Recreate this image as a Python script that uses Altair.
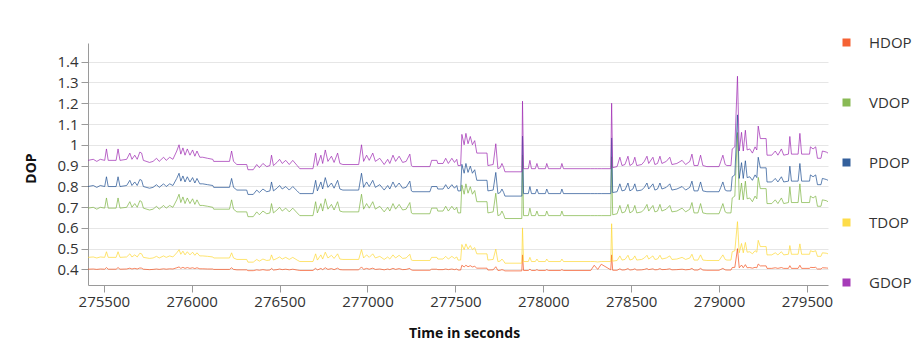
import altair as alt
import pandas as pd

# ---- data ----
time_s = [
    275410, 275440, 275460, 275480, 275505, 275515, 275525, 275570, 275581, 275592,
    275630, 275648, 275660, 275676, 275690, 275705, 275715, 275725, 275760, 275780,
    275800, 275815, 275840, 275855, 275875, 275893, 275915, 275928, 275938, 275950,
    275962, 275975, 275990, 276005, 276018, 276030, 276046, 276063, 276090, 276120,
    276125, 276215, 276227, 276238, 276257, 276313, 276320, 276350, 276370, 276385,
    276405, 276427, 276445, 276454, 276465, 276485, 276500, 276515, 276535, 276555,
    276575, 276600, 276615, 276690, 276705, 276715, 276735, 276745, 276760, 276775,
    276795, 276810, 276830, 276843, 276860, 276950, 276966, 276978, 276995, 277010,
    277030, 277045, 277070, 277095, 277115, 277127, 277145, 277160, 277180, 277200,
    277220, 277241, 277250, 277258, 277355, 277365, 277395, 277400, 277430, 277445,
    277460, 277480, 277495, 277508, 277515, 277530, 277537, 277550, 277560, 277572,
    277585, 277597, 277610, 277622, 277680, 277685, 277715, 277730, 277742, 277755,
    277765, 277775, 277782, 277878, 277882, 277888, 277915, 277924, 277933, 277955,
    277964, 277973, 278012, 278020, 278030, 278098, 278106, 278115, 278270, 278290,
    278310, 278330, 278384, 278389, 278395, 278420, 278436, 278448, 278465, 278482,
    278493, 278510, 278521, 278532, 278560, 278575, 278590, 278600, 278624, 278635,
    278650, 278664, 278675, 278700, 278720, 278732, 278760, 278790, 278810, 278834,
    278846, 278858, 278880, 278895, 278908, 278931, 279000, 279010, 279022, 279035,
    279045, 279068, 279075, 279090, 279105, 279115, 279128, 279138, 279150, 279160,
    279175, 279190, 279205, 279215, 279223, 279235, 279268, 279273, 279300, 279320,
    279335, 279355, 279368, 279395, 279403, 279412, 279450, 279460, 279470, 279515,
    279520, 279535, 279550, 279560, 279580, 279588, 279610, 279620,
]

gdop = [
    .925, .930, .920, .930, .925, .980, .925, .925, .980, .925,
    .930, .960, .930, .950, .930, .965, .960, .925, .915, .920,
    .935, .920, .940, .925, .940, .930, .970, 1.000, .955, .985,
    .950, .980, .950, .975, .945, .970, .940, .940, .935, .930,
    .920, .920, .970, .920, .905, .905, .880, .880, .905, .890,
    .910, .895, .900, .950, .900, .915, .930, .910, .925, .905,
    .925, .900, .885, .885, .960, .900, .950, .910, .975, .920,
    .945, .915, .960, .910, .905, .905, 1.000, .920, .950, .925,
    .960, .920, .935, .905, .930, .910, .950, .920, .945, .915,
    .920, .955, .900, .895, .895, .925, .925, .910, .910, .935,
    .910, .935, .915, .930, .900, .900, 1.050, 1.000, 1.055, 1.005,
    1.040, 1.000, 1.020, .960, .960, .900, .905, 1.005, .885, .890,
    .910, .890, .870, .870, 1.210, .885, .885, .925, .885, .885,
    .910, .885, .885, .910, .885, .885, .910, .885, .885, .885,
    .885, .885, .885, 1.200, .890, .895, .940, .900, .905, .945,
    .900, .910, .940, .900, .905, .920, .945, .910, .940, .905,
    .910, .945, .910, .920, .940, .905, .910, .925, .905, .920,
    .955, .900, .900, .950, .900, .895, .895, .920, .950, .905,
    .900, .900, .980, .990, 1.330, .970, 1.060, .970, 1.070, .975,
    .980, .960, .990, .975, 1.090, 1.030, 1.030, .950, .950, .970,
    .950, .980, .950, .955, 1.040, .955, .955, 1.055, .955, .955,
    .990, .980, .990, .935, .935, .970, .965, .960,
]

pdop = [
    .799, .804, .795, .804, .799, .846, .799, .799, .846, .799,
    .804, .829, .804, .821, .804, .833, .829, .799, .791, .795,
    .808, .795, .812, .799, .812, .804, .838, .863, .825, .850,
    .821, .846, .821, .842, .816, .838, .812, .812, .808, .804,
    .795, .795, .838, .795, .782, .782, .761, .761, .782, .770,
    .787, .774, .778, .821, .778, .791, .804, .787, .799, .782,
    .799, .778, .765, .765, .829, .778, .821, .787, .842, .795,
    .816, .791, .829, .787, .782, .782, .863, .795, .821, .799,
    .829, .795, .808, .782, .804, .787, .821, .795, .816, .791,
    .795, .825, .778, .774, .774, .799, .799, .787, .787, .808,
    .787, .808, .791, .804, .778, .778, .906, .863, .910, .867,
    .897, .863, .880, .829, .829, .778, .782, .867, .765, .770,
    .787, .770, .753, .753, 1.042, .765, .765, .799, .765, .765,
    .787, .765, .765, .787, .765, .765, .787, .765, .765, .765,
    .765, .765, .765, 1.033, .770, .774, .812, .778, .782, .816,
    .778, .787, .812, .778, .782, .795, .816, .787, .812, .782,
    .787, .816, .787, .795, .812, .782, .787, .799, .782, .795,
    .825, .778, .778, .821, .778, .774, .774, .795, .821, .782,
    .778, .778, .846, .855, 1.144, .838, .914, .838, .923, .842,
    .846, .829, .855, .842, .940, .889, .889, .821, .821, .838,
    .821, .846, .821, .825, .897, .825, .825, .910, .825, .825,
    .855, .846, .855, .808, .808, .838, .833, .829,
]

vdop = [
    .695, .699, .690, .699, .695, .744, .695, .695, .744, .695,
    .699, .726, .699, .717, .699, .731, .726, .695, .686, .690,
    .704, .690, .708, .695, .708, .699, .735, .762, .722, .749,
    .717, .744, .717, .740, .713, .735, .708, .708, .704, .699,
    .690, .690, .735, .690, .677, .677, .654, .654, .677, .663,
    .681, .668, .672, .717, .672, .686, .699, .681, .695, .677,
    .695, .672, .659, .659, .726, .672, .717, .681, .740, .690,
    .713, .686, .726, .681, .677, .677, .762, .690, .717, .695,
    .726, .690, .704, .677, .699, .681, .717, .690, .713, .686,
    .690, .722, .672, .668, .668, .695, .695, .681, .681, .704,
    .681, .704, .686, .699, .672, .672, .807, .762, .812, .767,
    .798, .762, .780, .726, .726, .672, .677, .767, .659, .663,
    .681, .663, .645, .645, .951, .659, .659, .695, .659, .659,
    .681, .659, .659, .681, .659, .659, .681, .659, .659, .659,
    .659, .659, .659, .942, .663, .668, .708, .672, .677, .713,
    .672, .681, .708, .672, .677, .690, .713, .681, .708, .677,
    .681, .713, .681, .690, .708, .677, .681, .695, .677, .690,
    .722, .672, .672, .717, .672, .668, .668, .690, .717, .677,
    .672, .672, .744, .753, 1.059, .735, .816, .735, .825, .740,
    .744, .726, .753, .740, .843, .789, .789, .717, .717, .735,
    .717, .744, .717, .722, .798, .722, .722, .812, .722, .722,
    .753, .744, .753, .704, .704, .735, .731, .726,
]

tdop = [
    .458, .460, .455, .460, .458, .485, .458, .458, .485, .458,
    .460, .475, .460, .470, .460, .478, .475, .458, .453, .455,
    .463, .455, .465, .458, .465, .460, .480, .495, .473, .488,
    .470, .485, .470, .483, .468, .480, .465, .465, .463, .460,
    .455, .455, .480, .455, .448, .448, .435, .435, .448, .440,
    .450, .443, .445, .470, .445, .453, .460, .450, .458, .448,
    .458, .445, .438, .438, .475, .445, .470, .450, .483, .455,
    .468, .453, .475, .450, .448, .448, .495, .455, .470, .458,
    .475, .455, .463, .448, .460, .450, .470, .455, .468, .453,
    .455, .473, .445, .443, .443, .458, .458, .450, .450, .463,
    .450, .463, .453, .460, .445, .445, .520, .495, .523, .498,
    .515, .495, .505, .475, .475, .445, .448, .498, .438, .440,
    .450, .440, .430, .430, .600, .438, .438, .458, .438, .438,
    .450, .438, .438, .450, .438, .438, .450, .438, .438, .438,
    .436, .438, .438, .620, .440, .443, .465, .445, .448, .468,
    .445, .450, .465, .445, .448, .455, .468, .450, .465, .448,
    .450, .468, .450, .455, .465, .448, .450, .458, .448, .455,
    .473, .445, .445, .470, .445, .443, .443, .455, .470, .448,
    .445, .445, .485, .490, .630, .480, .525, .480, .530, .483,
    .485, .475, .490, .483, .540, .510, .510, .470, .470, .480,
    .470, .485, .470, .473, .515, .473, .473, .523, .473, .473,
    .490, .485, .490, .463, .463, .480, .478, .475,
]

hdop = [
    .401, .402, .400, .402, .401, .409, .401, .401, .409, .401,
    .402, .406, .402, .405, .402, .407, .406, .401, .399, .400,
    .402, .400, .403, .401, .403, .402, .408, .412, .405, .410,
    .405, .409, .405, .408, .404, .408, .403, .403, .402, .402,
    .400, .400, .408, .400, .398, .398, .394, .394, .398, .396,
    .399, .396, .397, .405, .397, .399, .402, .399, .401, .398,
    .401, .397, .395, .395, .406, .397, .405, .399, .408, .400,
    .404, .399, .406, .399, .398, .398, .412, .400, .405, .401,
    .406, .400, .402, .398, .402, .399, .405, .400, .404, .399,
    .400, .405, .397, .396, .396, .401, .401, .399, .399, .402,
    .399, .402, .399, .402, .397, .397, .420, .412, .420, .413,
    .418, .412, .415, .406, .406, .397, .398, .413, .395, .396,
    .399, .396, .393, .393, .470, .395, .395, .401, .395, .395,
    .399, .395, .395, .399, .395, .395, .399, .395, .395, .420,
    .400, .425, .398, .470, .396, .396, .403, .397, .398, .404,
    .397, .399, .403, .397, .398, .400, .404, .399, .403, .398,
    .399, .404, .399, .400, .403, .398, .399, .401, .398, .400,
    .405, .397, .397, .405, .397, .396, .396, .400, .405, .398,
    .397, .397, .409, .410, .500, .408, .421, .408, .423, .408,
    .409, .406, .410, .408, .426, .417, .417, .405, .405, .408,
    .405, .409, .405, .405, .418, .405, .405, .420, .405, .405,
    .410, .409, .410, .402, .402, .408, .407, .406,
]

series_names = ["HDOP", "VDOP", "PDOP", "TDOP", "GDOP"]
series_colors = ["#f4511e", "#7cb342", "#1e4f91", "#fdd835", "#9c27b0"]
x_ticks = [275500, 276000, 276500, 277000, 277500, 278000, 278500, 279000, 279500]
y_ticks = [0.4, 0.5, 0.6, 0.7, 0.8, 0.9, 1.0, 1.1, 1.2, 1.3, 1.4]

rows = []
for name, vals in zip(series_names, [hdop, vdop, pdop, tdop, gdop]):
    for t, v in zip(time_s, vals):
        rows.append({"time": t, "dop": v, "series": name})
df = pd.DataFrame(rows)

FONT = "Open Sans"
color_scale = alt.Scale(domain=series_names, range=series_colors)

x_enc = alt.X(
    "time:Q",
    scale=alt.Scale(domain=[275410, 279620], nice=False, zero=False),
    axis=alt.Axis(
        title="Time in seconds", values=x_ticks, tickCount=30, format="d", grid=False,
        labelOverlap=False,
        labelFontSize=15, labelColor="#333333", labelFont=FONT, labelPadding=2,
        tickSize=7, tickColor="#9a9a9a", domainColor="#9a9a9a",
        titleFont=FONT, titleFontSize=14, titleFontWeight="bold", titleColor="#111111",
        titleX=376, titleY=48, titleBaseline="middle",
    ),
)
y_enc = alt.Y(
    "dop:Q",
    scale=alt.Scale(domain=[0.325, 1.49], nice=False, zero=False),
    axis=alt.Axis(
        title="DOP", values=y_ticks, tickCount=30, format="~g", grid=True,
        gridColor="#e6e6e6", labelOverlap=False,
        labelFontSize=15, labelColor="#333333", labelFont=FONT, labelPadding=3,
        tickSize=7, tickColor="#9a9a9a", domainColor="#9a9a9a",
        titleFont=FONT, titleFontSize=14, titleFontWeight="bold", titleColor="#111111",
        titleX=-57, titleY=125, titleBaseline="middle", titleAngle=270,
    ),
)

lines = alt.Chart(df).mark_line(strokeWidth=1, opacity=0.7).encode(
    x=x_enc,
    y=y_enc,
    color=alt.Color("series:N", scale=color_scale, legend=None),
    order=alt.Order("time:Q"),
)

legend_marks = alt.Chart(df).mark_square(size=0, filled=True, opacity=1).encode(
    x="time:Q",
    y="dop:Q",
    color=alt.Color(
        "series:N",
        scale=color_scale,
        legend=alt.Legend(
            title=None, orient="none", legendX=751, legendY=-8,
            symbolType="square", symbolSize=64, symbolOpacity=0.9,
            labelFont=FONT, labelFontSize=15, labelColor="#333333",
            labelOffset=15, rowPadding=44,
        ),
    ),
)

chart = (
    alt.layer(lines, legend_marks)
    .resolve_legend(color="independent")
    .properties(
        width=740,
        height=242,
        autosize=alt.AutoSizeParams(type="none"),
        padding={"left": 88, "top": 43, "right": 90, "bottom": 64},
        background="white",
    )
    .configure_view(stroke=None)
)

chart.save("out.html", embed_options={"renderer": "svg", "actions": False})
